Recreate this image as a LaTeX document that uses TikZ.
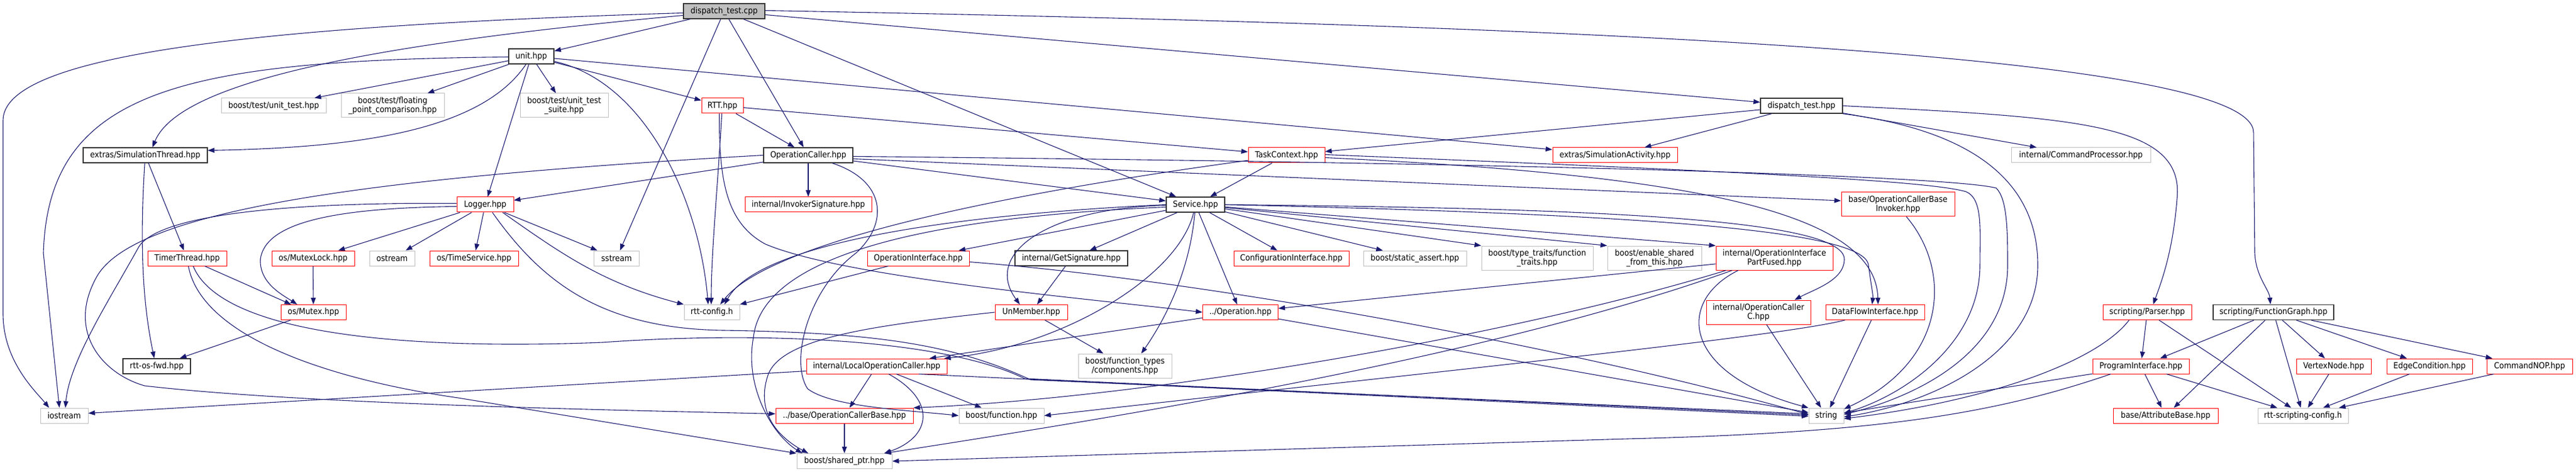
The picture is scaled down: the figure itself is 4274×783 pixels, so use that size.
\documentclass[tikz,border=0pt]{standalone}
\usepackage{fontspec}
\setmainfont{DejaVu Sans}[FakeStretch=0.9]
\usetikzlibrary{arrows.meta}

\definecolor{edgeblue}{HTML}{191970}
\definecolor{boxred}{HTML}{FF0000}
\definecolor{boxgray}{HTML}{BFBFBF}
\newcommand{\dotfont}{\fontsize{14}{15}\selectfont}

\tikzset{
    incfile/.style={draw, rectangle, inner sep=0pt, minimum height=25, align=center, font=\dotfont, fill=white, line width=1pt},
    docfile/.style={incfile, draw=black!80, line width=1.4pt},
    mainfile/.style={docfile, fill=boxgray},
    truncfile/.style={incfile, draw=boxred},
    extfile/.style={incfile, draw=boxgray},
    dep/.style={draw=edgeblue, line width=1.1pt, >={Triangle[length=11pt, width=8pt]}},
}

\begin{document}
\begin{tikzpicture}[x=1pt, y=-1pt]
    \useasboundingbox (0,0) rectangle (4274,783);

    % the file and its direct includes
    \node[mainfile, minimum width=135] (root) at (1201.5,18.5) {dispatch\_test.cpp};
    \node[docfile, minimum width=75] (unit) at (881.5,93.5) {unit.hpp};
    \node[extfile, minimum width=174] (utest) at (454,175.5) {boost/test/unit\_test.hpp};
    \node[extfile, minimum width=171, minimum height=40] (fpc) at (651.5,175) {boost/test/floating\\\_point\_comparison.hpp};
    \node[extfile, minimum width=146, minimum height=40] (uts) at (936,175) {boost/test/unit\_test\\\_suite.hpp};
    \node[truncfile, minimum width=69] (rtt) at (1198.5,175.5) {RTT.hpp};
    \node[docfile, minimum width=136] (dth) at (2989,175.5) {dispatch\_test.hpp};

    \node[docfile, minimum width=206] (simthr) at (241,257.5) {extras/SimulationThread.hpp};
    \node[docfile, minimum width=148] (opcaller) at (1341,257.5) {OperationCaller.hpp};
    \node[truncfile, minimum width=127] (taskctx) at (2134.5,257.5) {TaskContext.hpp};
    \node[truncfile, minimum width=207] (simact) at (2679.5,257.5) {extras/SimulationActivity.hpp};
    \node[extfile, minimum width=231] (cmdproc) at (3452.5,257.5) {internal/CommandProcessor.hpp};

    \node[truncfile, minimum width=94] (logger) at (805,339.5) {Logger.hpp};
    \node[truncfile, minimum width=210] (invsig) at (1341,339.5) {internal/InvokerSignature.hpp};
    \node[docfile, minimum width=97] (service) at (1983.5,339.5) {Service.hpp};
    \node[truncfile, minimum width=188, minimum height=40] (baseinv) at (3149,339) {base/OperationCallerBase\\Invoker.hpp};

    % middle rows
    \node[truncfile, minimum width=131] (timer) at (310.5,428.5) {TimerThread.hpp};
    \node[truncfile, minimum width=137] (mutexlock) at (519.5,428.5) {os/MutexLock.hpp};
    \node[extfile, minimum width=75] (ostream) at (650.5,428.5) {ostream};
    \node[truncfile, minimum width=147] (timesvc) at (786.5,428.5) {os/TimeService.hpp};
    \node[extfile, minimum width=75] (sstream) at (1023,428.5) {sstream};
    \node[truncfile, minimum width=169] (opiface) at (1523.5,428.5) {OperationInterface.hpp};
    \node[docfile, minimum width=187] (getsig) at (1777.5,428.5) {internal/GetSignature.hpp};
    \node[truncfile, minimum width=191] (config) at (2142.5,428.5) {ConfigurationInterface.hpp};
    \node[extfile, minimum width=171] (sassert) at (2347.5,428.5) {boost/static\_assert.hpp};
    \node[extfile, minimum width=185, minimum height=40] (typetr) at (2550.5,428) {boost/type\_traits/function\\\_traits.hpp};
    \node[extfile, minimum width=156, minimum height=40] (enshared) at (2745,428) {boost/enable\_shared\\\_from\_this.hpp};
    \node[truncfile, minimum width=194, minimum height=40] (partfused) at (2944,428) {internal/OperationInterface\\PartFused.hpp};

    \node[truncfile, minimum width=108] (mutex) at (520,518) {os/Mutex.hpp};
    \node[extfile, minimum width=92] (rttconfig) at (1181,518) {rtt-config.h};
    \node[truncfile, minimum width=120] (unmember) at (1711,518) {UnMember.hpp};
    \node[truncfile, minimum width=125] (operation) at (2058,518) {../Operation.hpp};
    \node[truncfile, minimum width=173, minimum height=40] (opcallerc) at (2917.5,518) {internal/OperationCaller\\C.hpp};
    \node[truncfile, minimum width=164] (dataflow) at (3111,518) {DataFlowInterface.hpp};
    \node[truncfile, minimum width=147] (parser) at (3562.5,518) {scripting/Parser.hpp};
    \node[docfile, minimum width=200] (funcgraph) at (3772,518) {scripting/FunctionGraph.hpp};

    \node[docfile, minimum width=112] (osfwd) at (260,607.5) {rtt-os-fwd.hpp};
    \node[truncfile, minimum width=233] (localop) at (1454.5,607.5) {internal/LocalOperationCaller.hpp};
    \node[extfile, minimum width=155, minimum height=40] (ftypes) at (1866.5,607) {boost/function\_types\\/components.hpp};
    \node[truncfile, minimum width=160] (progiface) at (3552,607.5) {ProgramInterface.hpp};
    \node[truncfile, minimum width=124] (vertex) at (3872,607.5) {VertexNode.hpp};
    \node[truncfile, minimum width=142] (edgecond) at (4031,607.5) {EdgeCondition.hpp};
    \node[truncfile, minimum width=142] (cmdnop) at (4197,607.5) {CommandNOP.hpp};

    % bottom rows
    \node[extfile, minimum width=79] (iostream) at (106.5,689.5) {iostream};
    \node[truncfile, minimum width=228] (opcbase) at (1401,689.5) {../base/OperationCallerBase.hpp};
    \node[extfile, minimum width=141] (function) at (1661.5,689.5) {boost/function.hpp};
    \node[extfile, minimum width=58] (string) at (3030,689.5) {string};
    \node[truncfile, minimum width=174] (attrbase) at (3593,689.5) {base/AttributeBase.hpp};
    \node[extfile, minimum width=150] (scriptcfg) at (3821,689.5) {rtt-scripting-config.h};
    \node[extfile, minimum width=158] (sharedptr) at (1401,765) {boost/shared\_ptr.hpp};

    % from dispatch_test.cpp
    \draw[dep,->] ([yshift=-3pt]root.west) .. controls (350,45) and (5,100) .. (5,200) -- (5,520) .. controls (5,600) and (60,650) .. ([xshift=-25pt]iostream.north);
    \draw[dep,->] ([yshift=-7pt]root.west) .. controls (650,70) and (300,130) .. ([xshift=12pt]simthr.north);
    \draw[dep,->] (root) -- (unit);
    \draw[dep,->] (root) -- (sstream);
    \draw[dep,->] (root) -- (opcaller);
    \draw[dep,->] (root) -- (service);
    \draw[dep,->] (root) -- (dth);
    \draw[dep,->] ([yshift=1pt]root.east) .. controls (2800,45) and (3739,100) .. (3739,220) -- (3741,420) .. controls (3743,460) and (3765,480) .. ([xshift=-5pt]funcgraph.north);

    % from unit.hpp
    \draw[dep,->] ([yshift=-1pt]unit.west) .. controls (300,100) and (80,150) .. (72,420) -- ([xshift=-8pt]iostream.north);
    \draw[dep,->] (unit) -- (utest);
    \draw[dep,->] (unit) -- (fpc);
    \draw[dep,->] (unit) .. controls (800,215) and (600,245) .. ([yshift=8pt]simthr.east);
    \draw[dep,->] (unit) -- (logger);
    \draw[dep,->] (unit) -- (uts);
    \draw[dep,->] (unit) .. controls (1070,135) and (1160,330) .. ([xshift=-6pt]rttconfig.north);
    \draw[dep,->] (unit) -- (simact);
    \draw[dep,->] (unit) -- (rtt);

    % from RTT.hpp
    \draw[dep,->] (rtt) -- (taskctx);
    \draw[dep,->] (rtt) -- (opcaller);
    \draw[dep,->] (rtt) .. controls (1190,320) and (1180,420) .. ([xshift=-1pt]rttconfig.north);
    \draw[dep,->] ([xshift=-5pt]rtt.south) .. controls (1193,300) and (1205,370) .. (1270,405) .. controls (1400,460) and (1800,495) .. (operation.west);

    % from OperationCaller.hpp
    \draw[dep,->] (opcaller) -- (logger);
    \draw[dep,->] (opcaller) -- (invsig);
    \draw[dep,->] (opcaller) -- (service);
    \draw[dep,->] ([yshift=-6pt]opcaller.east) -- ([yshift=6pt]baseinv.west);
    \draw[dep,->] ([yshift=-2pt]opcaller.east) .. controls (2700,272) and (3250,295) .. (3312,312) .. controls (3330,330) and (3331,380) .. (3331,440) .. controls (3331,590) and (3170,660) .. ([yshift=2pt]string.east);
    \draw[dep,->] (opcaller) .. controls (1470,300) and (1475,370) .. (1420,420) .. controls (1340,480) and (1310,600) .. (1340,645) .. controls (1380,675) and (1500,680) .. (function.west);
    \draw[dep,->] (opcaller.west) .. controls (600,295) and (220,350) .. (160,460) .. controls (110,550) and (170,620) .. (240,640) .. controls (500,670) and (1000,680) .. ([yshift=3pt]opcbase.west);

    % from Logger.hpp
    \draw[dep,->] ([yshift=2pt]logger.west) .. controls (450,335) and (260,360) .. (230,410) .. controls (180,500) and (115,600) .. ([xshift=2pt]iostream.north);
    \draw[dep,->] ([yshift=-3pt]logger.west) .. controls (550,345) and (440,370) .. (432,430) .. controls (430,470) and (470,490) .. ([xshift=-27pt]mutex.north);
    \draw[dep,->] (logger) -- (mutexlock);
    \draw[dep,->] (logger) -- (ostream);
    \draw[dep,->] (logger) -- (timesvc);
    \draw[dep,->] (logger) -- (sstream);
    \draw[dep,->] ([xshift=29pt]logger.south) .. controls (930,420) and (1000,470) .. (rttconfig.north west);
    \draw[dep,->] ([xshift=12pt]logger.south) .. controls (900,470) and (1000,545) .. (1200,548) .. controls (1450,552) and (1580,570) .. (1710,630) -- ([yshift=3pt]string.west);

    % from TimerThread.hpp and the os headers
    \draw[dep,->] (timer) -- ([xshift=-37pt]mutex.north);
    \draw[dep,->] ([xshift=10pt]timer.south) .. controls (370,560) and (700,580) .. (1000,568) .. controls (1250,550) and (1560,560) .. (1700,628) -- ([yshift=1pt]string.west);
    \draw[dep,->] ([xshift=2pt]timer.south) .. controls (335,560) and (550,630) .. (760,660) -- (sharedptr.north west);
    \draw[dep,->] (simthr) -- (timer);
    \draw[dep,->] (simthr) .. controls (232,400) and (236,500) .. ([xshift=-4pt]osfwd.north);
    \draw[dep,->] (mutexlock) -- (mutex);
    \draw[dep,->] (mutex) -- (osfwd);

    % from Service.hpp
    \draw[dep,->] (service.west) .. controls (1600,355) and (1260,400) .. ([xshift=21pt]rttconfig.north);
    \draw[dep,->] ([yshift=-4pt]service.west) .. controls (1550,360) and (1265,420) .. (1250,560) .. controls (1235,640) and (1280,720) .. ([xshift=-70pt]sharedptr.north);
    \draw[dep,->] (service) .. controls (1740,345) and (1630,420) .. ([xshift=-19pt]unmember.north);
    \draw[dep,->] (service) -- (opiface);
    \draw[dep,->] (service) -- (getsig);
    \draw[dep,->] (service) .. controls (1955,460) and (1760,575) .. ([xshift=-5pt]localop.north east);
    \draw[dep,->] (service) .. controls (1975,440) and (1940,520) .. ([xshift=27pt]ftypes.north);
    \draw[dep,->] (service) -- (operation);
    \draw[dep,->] (service) -- (config);
    \draw[dep,->] (service) -- (sassert);
    \draw[dep,->] (service) -- (typetr.north west);
    \draw[dep,->] (service) -- (enshared.north west);
    \draw[dep,->] (service) -- (partfused.north west);
    \draw[dep,->] (service.east) .. controls (2600,345) and (3060,360) .. (3060,430) .. controls (3060,465) and (3010,480) .. ([xshift=60pt]opcallerc.north);
    \draw[dep,->] (service.east) .. controls (2700,355) and (3095,380) .. (3100,440) .. controls (3104,470) and (3108,490) .. ([xshift=-5pt]dataflow.north);

    % from TaskContext.hpp
    \draw[dep,->] (taskctx) -- (service);
    \draw[dep,->] (taskctx) .. controls (1600,330) and (1270,410) .. ([xshift=14pt]rttconfig.north);
    \draw[dep,->] ([yshift=-4pt]taskctx.east) .. controls (2800,290) and (3112,350) .. ([xshift=5pt]dataflow.north);
    \draw[dep,->] ([yshift=1pt]taskctx.east) .. controls (2900,285) and (3200,300) .. (3262,318) .. controls (3290,330) and (3285,380) .. (3285,440) .. controls (3285,570) and (3160,655) .. ([yshift=4pt]string.east);

    % from dispatch_test.hpp
    \draw[dep,->] (dth) -- (taskctx);
    \draw[dep,->] (dth) -- (simact);
    \draw[dep,->] (dth) -- (cmdproc);
    \draw[dep,->] (dth.south east) .. controls (3300,220) and (3381,320) .. (3381,440) .. controls (3381,590) and (3200,670) .. ([yshift=-2pt]string.east);
    \draw[dep,->] (dth.east) .. controls (3450,195) and (3625,205) .. (3612,330) .. controls (3605,420) and (3585,470) .. ([xshift=10pt]parser.north);

    % scripting headers
    \draw[dep,->] ([xshift=-30pt]parser.south) .. controls (3480,600) and (3300,665) .. ([yshift=-5pt]string.east);
    \draw[dep,->] (parser) -- (progiface);
    \draw[dep,->] (parser) -- (scriptcfg);
    \draw[dep,->] (progiface) -- (attrbase);
    \draw[dep,->] (progiface) -- (scriptcfg);
    \draw[dep,->] (progiface) -- (string);
    \draw[dep,->] ([xshift=-50pt]progiface.south) .. controls (3300,690) and (3100,718) .. (2700,728) -- (sharedptr.east);
    \foreach \dst in {progiface, attrbase, scriptcfg, vertex, edgecond, cmdnop}
        \draw[dep,->] (funcgraph) -- (\dst);
    \foreach \src in {vertex, edgecond, cmdnop}
        \draw[dep,->] (\src) -- (scriptcfg);

    % the remaining headers
    \draw[dep,->] ([xshift=14pt]baseinv.south) .. controls (3240,450) and (3230,600) .. ([yshift=-2pt]string.north east);
    \draw[dep,->] (partfused) -- (operation);
    \draw[dep,->] ([xshift=-80pt]partfused.south) .. controls (2500,560) and (1900,660) .. (opcbase.north east);
    \draw[dep,->] ([xshift=-70pt]partfused.south) .. controls (2450,600) and (1800,700) .. ([xshift=-13pt]sharedptr.north east);
    \draw[dep,->] ([xshift=-60pt]partfused.south) .. controls (2780,500) and (2790,620) .. (string.north west);
    \draw[dep,->] (operation) -- (localop);
    \draw[dep,->] (operation) -- (string);
    \draw[dep,->] (opcallerc) -- (string);
    \draw[dep,->] (dataflow) -- (string);
    \draw[dep,->] ([xshift=-50pt]dataflow.south) .. controls (2950,560) and (2300,625) .. (function.east);
    \draw[dep,->] (getsig) -- (unmember);
    \draw[dep,->] (unmember) -- (ftypes);
    \draw[dep,->] (unmember.west) .. controls (1450,540) and (1300,560) .. (1275,620) .. controls (1250,690) and (1300,730) .. ([xshift=-60pt]sharedptr.north);
    \draw[dep,->] ([yshift=-8pt]localop.west) -- ([yshift=4pt]iostream.east);
    \draw[dep,->] (localop) -- (opcbase);
    \draw[dep,->] (localop) -- (function);
    \draw[dep,->] ([xshift=20pt]localop.south) .. controls (1555,665) and (1545,725) .. ([xshift=66pt]sharedptr.north);
    \draw[dep,->] ([xshift=70pt]localop.south) -- ([yshift=-1pt]string.west);
    \draw[dep,->] (opcbase) -- (sharedptr);
    \draw[dep,->] ([xshift=-50pt]opiface.south) -- (rttconfig.north east);
    \draw[dep,->] ([yshift=-6pt]opiface.east) .. controls (2000,465) and (2600,575) .. ([yshift=2pt]string.west);
\end{tikzpicture}
\end{document}
